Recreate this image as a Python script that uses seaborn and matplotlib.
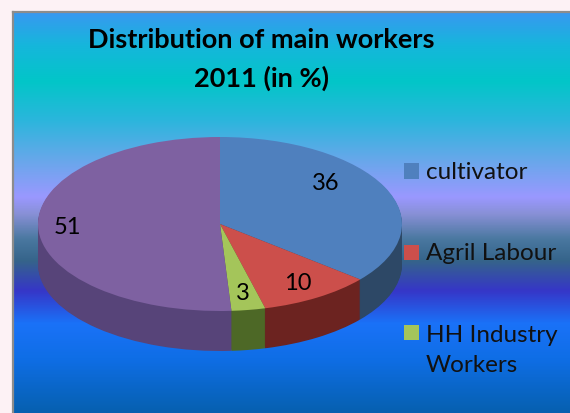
import numpy as np
import matplotlib
matplotlib.use("Agg")
import matplotlib.pyplot as plt
from matplotlib.colors import LinearSegmentedColormap
from matplotlib.patches import Rectangle
import seaborn as sns

# ---- data -------------------------------------------------------------
categories = ["cultivator", "Agril Labour", "HH Industry Workers", "Other Workers"]
shares = [36, 10, 3, 51]
legend_labels = ["cultivator", "Agril Labour", "HH Industry\nWorkers"]
title_lines = ["Distribution of main workers", "2011 (in %)"]

# ---- style ------------------------------------------------------------
top_colors = sns.color_palette(["#4f80be", "#cc4f4b", "#a4c55a", "#7e61a1"])
side_colors = sns.color_palette(["#2d4866", "#6c2320", "#4d6826", "#574479"])

W, H = 570, 414
sns.set_theme(style="white")
plt.rcParams["font.family"] = ["Lato", "DejaVu Sans"]

fig = plt.figure(figsize=(W / 100, H / 100), dpi=100, facecolor="#fdf2f5")

# gradient backdrop of the chart panel (pixel row from top, colour)
PANEL_TOP = 13
bg_stops = [
    (13, "#3898f0"), (45, "#16b6dc"), (82, "#02c6c8"), (120, "#2ab6dc"),
    (160, "#66a8ea"), (198, "#9a98ff"), (215, "#8890d6"), (240, "#4a78a0"),
    (262, "#35648a"), (292, "#3636c8"), (325, "#1a72f8"), (360, "#0f6ee6"),
    (414, "#0660b0"),
]
span = H - PANEL_TOP
cmap = LinearSegmentedColormap.from_list(
    "panel", [((y - PANEL_TOP) / span, c) for y, c in bg_stops])
panel = fig.add_axes([PANEL_TOP / W, 0, (W - PANEL_TOP) / W, span / H])
panel.imshow(np.linspace(0, 1, 512)[:, None], cmap=cmap, aspect="auto",
             origin="upper", extent=(0, 1, 0, 1), interpolation="bilinear")
panel.set_xticks([])
panel.set_yticks([])
for side in ("bottom", "right"):
    panel.spines[side].set_visible(False)
for side in ("top", "left"):
    panel.spines[side].set_color("#8c8c8c")
    panel.spines[side].set_linewidth(1.6)

# ---- 3-D pie ----------------------------------------------------------
ax = fig.add_axes([0, 0, 1, 1], zorder=2)
ax.patch.set_alpha(0)

CX, CY = 220, 225        # centre of top face, pixels from top-left
RX, RY = 182, 87         # semi-axes of the top face, pixels
DEPTH = 40               # thickness of the disc, pixels

depth_units = DEPTH / RY
for k in np.linspace(depth_units, 0, DEPTH + 1)[:-1]:
    ax.pie(shares, colors=side_colors, startangle=90, counterclock=False,
           center=(0, -k), radius=1, wedgeprops=dict(linewidth=0))

wedges, _ = ax.pie(shares, colors=top_colors, startangle=90,
                   counterclock=False, radius=1,
                   wedgeprops=dict(linewidth=0))

ax.set_aspect("auto")
ax.set_xlim(-CX / RX, (W - CX) / RX)
ax.set_ylim(-(H - CY) / RY, CY / RY)
ax.axis("off")

# value labels on the top face
label_radius = [0.75, 0.8, 0.8, 0.84]
label_turn = [14, 0, 0, 0]
for w, v, r, t in zip(wedges, shares, label_radius, label_turn):
    mid = np.deg2rad((w.theta1 + w.theta2) / 2 + t)
    ax.text(r * np.cos(mid), r * np.sin(mid), f"{v}", ha="center",
            va="center", fontsize=17, color="black")

# ---- title ------------------------------------------------------------
fig.text(261 / W, 1 - 48 / H, title_lines[0], ha="center", va="baseline",
         fontsize=19.5, fontweight="bold", color="black")
fig.text(261 / W, 1 - 87 / H, title_lines[1], ha="center", va="baseline",
         fontsize=19.5, fontweight="bold", color="black")

# ---- legend -----------------------------------------------------------
swatch_centres = [172, 253, 333]
LINE_STEP = 32
for lab, col, yc in zip(legend_labels, top_colors, swatch_centres):
    fig.add_artist(Rectangle((404 / W, 1 - (yc + 7.5) / H), 15 / W, 15 / H,
                             transform=fig.transFigure, facecolor=col,
                             edgecolor="none"))
    # multi-line text is anchored on the baseline of its last line
    last_base = yc + 7.5 + LINE_STEP * lab.count("\n")
    fig.text(426 / W, 1 - last_base / H, lab, ha="left", va="baseline",
             fontsize=17.5, color="#111111", linespacing=1.55)

fig.savefig("out.png", dpi=100, facecolor=fig.get_facecolor())
